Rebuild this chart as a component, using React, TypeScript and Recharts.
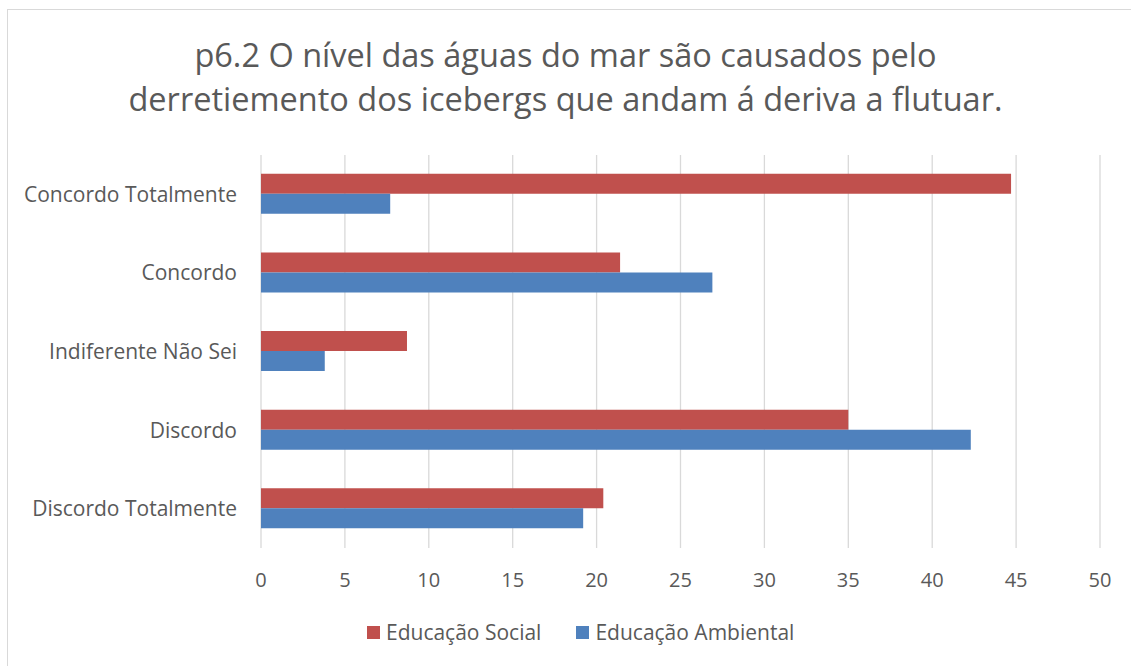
import React from 'react';
import { BarChart, Bar, XAxis, YAxis, CartesianGrid } from 'recharts';

const categories = ['Concordo Totalmente', 'Concordo', 'Indiferente Não Sei', 'Discordo', 'Discordo Totalmente'];
const educacaoSocial = [44.7, 21.4, 8.7, 35.0, 20.4];
const educacaoAmbiental = [7.7, 26.9, 3.8, 42.3, 19.2];
const xTicks = [0, 5, 10, 15, 20, 25, 30, 35, 40, 45, 50];
const titleLines = ['p6.2 O nível das águas do mar são causados pelo', 'derretiemento dos icebergs que andam á deriva a flutuar.'];
const seriesNames = ['Educação Social', 'Educação Ambiental'];

const data = categories.map((c, i) => ({ name: c, social: educacaoSocial[i], ambiental: educacaoAmbiental[i] }));

const RED = '#C0504D';
const BLUE = '#4F81BD';
const TEXT = '#595959';
const FONT = '"Open Sans", sans-serif';

export default function App() {
  return (
    <div style={{ position: 'absolute', left: 0, top: 0, width: 1131, height: 666, background: '#fff', overflow: 'hidden' }}>
      <div style={{ position: 'absolute', left: 7, top: 9, width: 1140, height: 680, border: '1px solid #d9d9d9', boxSizing: 'border-box' }} />
      <div style={{ position: 'absolute', left: 0, top: 33, width: 1131, textAlign: 'center', fontFamily: FONT, fontSize: 32.5, lineHeight: '44px', color: TEXT }}>
        {titleLines.map((l) => (<div key={l}>{l}</div>))}
      </div>
      <div style={{ position: 'absolute', left: 0, top: 0 }}>
        <BarChart
          width={1131}
          height={666}
          data={data}
          layout="vertical"
          margin={{ top: 155, right: 31, bottom: 78, left: 0 }}
          barCategoryGap="24%"
          barGap={0}
        >
          <CartesianGrid horizontal={false} vertical={true} stroke="#d9d9d9" strokeWidth={1.3} />
          <XAxis
            type="number"
            domain={[0, 50]}
            ticks={xTicks}
            axisLine={false}
            tickLine={false}
            tickSize={0}
            tickMargin={25}
            height={40}
            tick={{ fill: TEXT, fontSize: 20, fontFamily: FONT }}
          />
          <YAxis
            type="category"
            dataKey="name"
            width={261}
            axisLine={false}
            tickLine={false}
            tickSize={0}
            tickMargin={24}
            tick={{ fill: TEXT, fontSize: 21, fontFamily: FONT }}
          />
          <Bar dataKey="social" name={seriesNames[0]} fill={RED} isAnimationActive={false} />
          <Bar dataKey="ambiental" name={seriesNames[1]} fill={BLUE} isAnimationActive={false} />
        </BarChart>
      </div>
      <div style={{ position: 'absolute', left: 367, top: 617, display: 'flex', alignItems: 'center', fontFamily: FONT, fontSize: 21, lineHeight: '30px', color: TEXT }}>
        <span style={{ width: 13, height: 13, background: RED, display: 'inline-block', marginRight: 6 }} />
        <span style={{ marginRight: 35 }}>{seriesNames[0]}</span>
        <span style={{ width: 13, height: 13, background: BLUE, display: 'inline-block', marginRight: 6 }} />
        <span>{seriesNames[1]}</span>
      </div>
    </div>
  );
}
